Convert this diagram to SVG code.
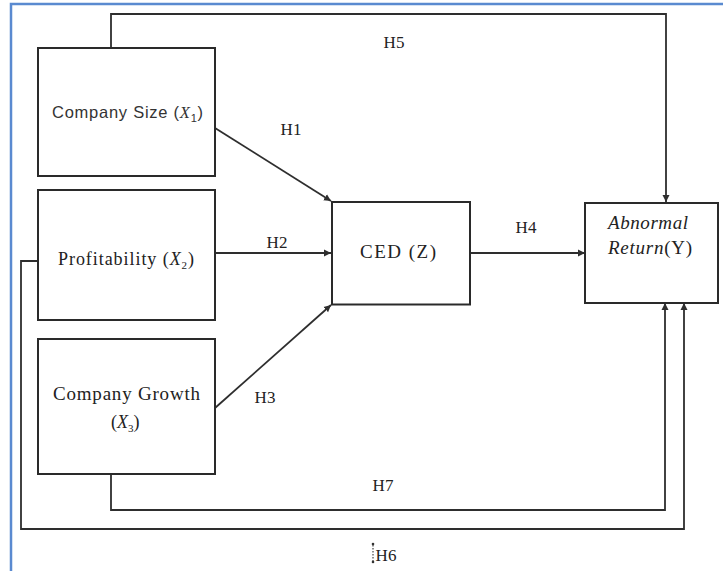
<svg xmlns="http://www.w3.org/2000/svg" width="723" height="571" viewBox="0 0 723 571">
<style>
.box{fill:#fff;stroke:#2a2a2a;stroke-width:2}
.con{fill:none;stroke:#2e2e2e;stroke-width:1.8}
.lbl{font-family:"Liberation Serif","Times New Roman",serif;font-size:17px;fill:#222;text-anchor:middle}
.serif{font-family:"Liberation Serif","Times New Roman",serif;fill:#222}
.sans{font-family:"Liberation Sans",Arial,sans-serif;fill:#333}
</style>
<defs>
<marker id="arr" markerWidth="8" markerHeight="8" refX="7" refY="4" orient="auto" markerUnits="userSpaceOnUse">
<path d="M0,0.5 L7,4 L0,7.5 Z" fill="#2e2e2e"/>
</marker>
</defs>
<rect x="0" y="0" width="723" height="571" fill="#fff"/>
<path d="M11,571 V4 H723" fill="none" stroke="#5a8ad0" stroke-width="2.5"/>

<g id="connectors">
<path class="con" d="M111,48 V14 H666 V202" marker-end="url(#arr)"/>
<path class="con" d="M215,128 L331,201" marker-end="url(#arr)"/>
<path class="con" d="M215,253 H331" marker-end="url(#arr)"/>
<path class="con" d="M215,408 L331,305" marker-end="url(#arr)"/>
<path class="con" d="M470,253 H585" marker-end="url(#arr)"/>
<path class="con" d="M111,474 V510 H665 V303" marker-end="url(#arr)"/>
<path class="con" d="M38,261 H21 V529 H684 V303" marker-end="url(#arr)"/>
<text class="lbl" x="394" y="48">H5</text>
<text class="lbl" x="291" y="135">H1</text>
<text class="lbl" x="277" y="248">H2</text>
<text class="lbl" x="265" y="403">H3</text>
<text class="lbl" x="526" y="233">H4</text>
<text class="lbl" x="383" y="491">H7</text>
<text class="lbl" x="386" y="561">H6</text>
<line x1="373" y1="545" x2="373" y2="561" stroke="#444" stroke-width="1.2" stroke-dasharray="1.5 1.5"/>
<circle cx="373" cy="544" r="1.3" fill="#333"/>
<circle cx="373" cy="562" r="1.3" fill="#333"/>
</g>

<g id="company-size">
<rect class="box" x="38" y="48" width="177" height="128"/>
<text class="sans" x="52" y="118" font-size="16.5" textLength="151" lengthAdjust="spacing">Company Size (<tspan font-style="italic" font-family="Liberation Serif, serif">X</tspan><tspan font-size="11" dy="4">1</tspan><tspan dy="-4">)</tspan></text>
</g>

<g id="profitability">
<rect class="box" x="38" y="190" width="177" height="130"/>
<text class="serif" x="58" y="265" font-size="18" textLength="136" lengthAdjust="spacing">Profitability (<tspan font-style="italic">X</tspan><tspan font-size="11" dy="4">2</tspan><tspan dy="-4">)</tspan></text>
</g>

<g id="company-growth">
<rect class="box" x="38" y="339" width="177" height="135"/>
<text class="serif" x="53" y="400" font-size="19" textLength="147" lengthAdjust="spacing">Company Growth</text>
<text class="serif" x="111" y="428" font-size="18">(<tspan font-style="italic">X</tspan><tspan font-size="11" dy="4">3</tspan><tspan dy="-4">)</tspan></text>
</g>

<g id="ced">
<rect class="box" x="332" y="202" width="138" height="102.5"/>
<text class="serif" x="360" y="258" font-size="19" textLength="76" lengthAdjust="spacing">CED (Z)</text>
</g>

<g id="abnormal-return">
<rect class="box" x="585" y="203" width="133" height="100"/>
<text class="serif" x="608" y="229" font-size="19" font-style="italic" textLength="80" lengthAdjust="spacing">Abnormal</text>
<text class="serif" x="608" y="254" font-size="19" textLength="84" lengthAdjust="spacing"><tspan font-style="italic">Return</tspan>(Y)</text>
</g>
</svg>
